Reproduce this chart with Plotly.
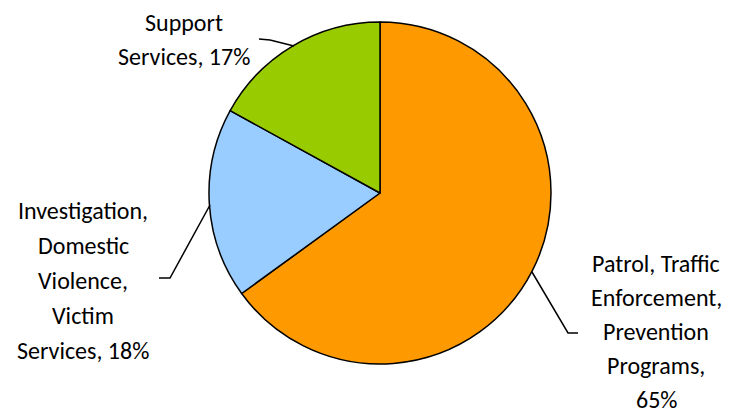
import plotly.graph_objects as go

categories = ["Patrol, Traffic Enforcement, Prevention Programs",
              "Investigation, Domestic Violence, Victim Services",
              "Support Services"]
values = [65, 18, 17]
colors = ["#FF9900", "#99CCFF", "#99CC00"]
label_lines = [
    ["Patrol, Traffic", "Enforcement,", "Prevention", "Programs,"],
    ["Investigation,", "Domestic", "Violence,", "Victim", "Services,"],
    ["Support", "Services,"],
]

W, H = 739, 417
total = sum(values)
pcts = [round(v / total * 100) for v in values]

def px(x):
    return x / W

def py(y):
    return 1 - y / H

cx, cy, r = 380, 193, 171

fig = go.Figure(go.Pie(
    labels=categories, values=values, sort=False, direction="clockwise",
    rotation=0, textinfo="none", hoverinfo="label+percent",
    marker=dict(colors=colors, line=dict(color="black", width=1.5)),
    domain=dict(x=[px(cx - r), px(cx + r)], y=[py(cy + r), py(cy - r)]),
    showlegend=False,
))

# label blocks: (center x, first line y, line spacing) in pixels
label_pos = [(656, 263, 34), (83, 210, 35), (184, 22, 34)]
font = dict(family="Carlito, Lato, sans-serif", size=24, color="black")
annotations = []
for lines, pct, (lx, ly, sp) in zip(label_lines, pcts, label_pos):
    full = list(lines)
    if full[-1].endswith(",") and len(full) == 4:
        full.append(f"{pct}%")
    else:
        full[-1] = full[-1] + f" {pct}%"
    for i, t in enumerate(full):
        annotations.append(dict(
            x=px(lx), y=py(ly + i * sp), xref="paper", yref="paper",
            text=t, showarrow=False, font=font, xanchor="center", yanchor="middle",
            borderpad=0))

leaders = [
    [(532, 272), (568, 333), (578, 333)],
    [(210, 205), (170, 278), (159, 278)],
    [(294, 46), (270, 40), (259, 39)],
]
shapes = []
for pts in leaders:
    path = "M " + " L ".join(f"{px(x)},{py(y)}" for x, y in pts)
    shapes.append(dict(type="path", path=path, xref="paper", yref="paper",
                       line=dict(color="black", width=1.5)))

fig.update_layout(
    width=W, height=H, margin=dict(l=0, r=0, t=0, b=0),
    paper_bgcolor="white", plot_bgcolor="white",
    annotations=annotations, shapes=shapes,
)
fig.write_html("out.html", config={"displayModeBar": False},
               post_script="document.body.style.margin='0';")
